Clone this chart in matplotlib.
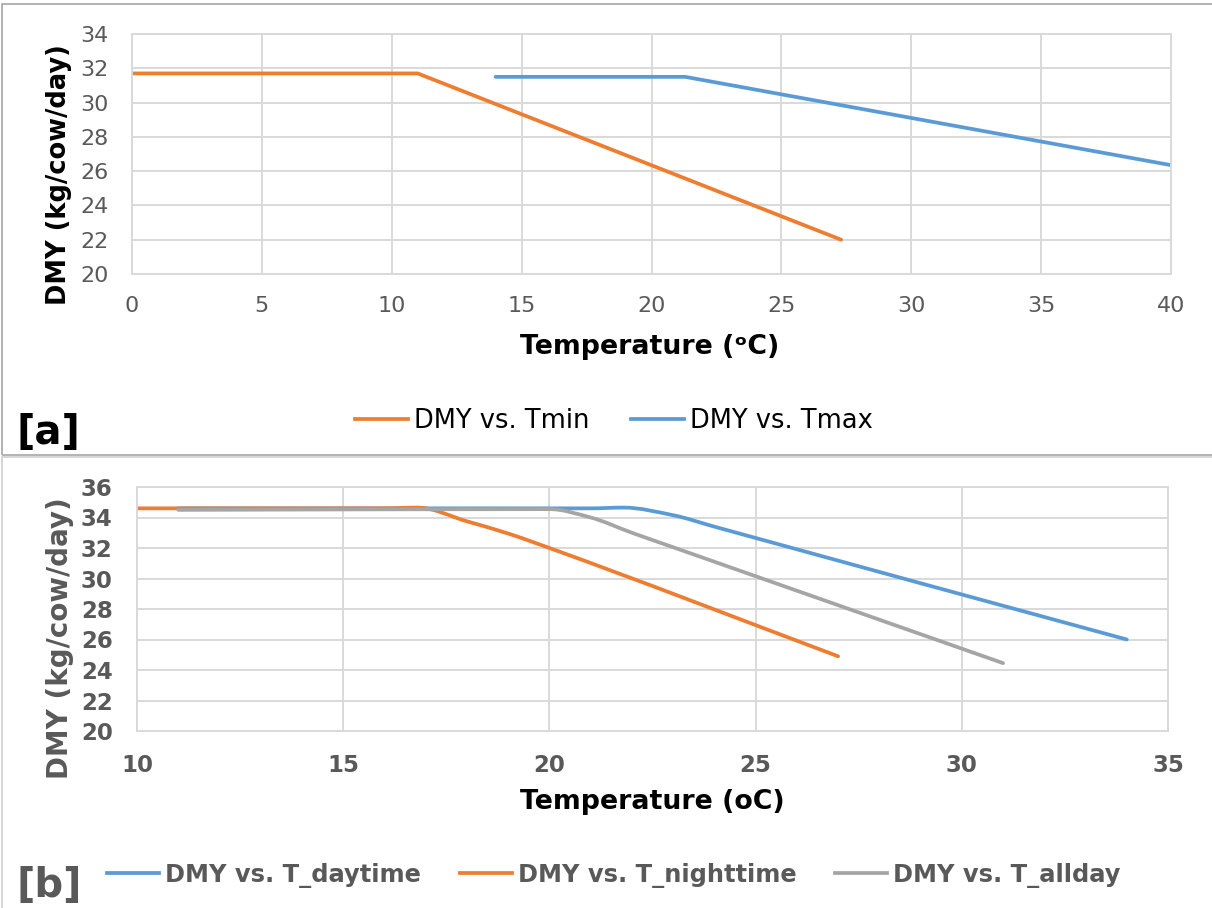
import numpy as np
import matplotlib.pyplot as plt
from matplotlib.path import Path
from matplotlib.patches import PathPatch, Rectangle
from matplotlib.lines import Line2D

# panel [a]: straight lines
tmin_x = [0, 11, 27.3]
tmin_y = [31.7, 31.7, 22.0]
tmax_x = [14, 21.3, 40]
tmax_y = [31.5, 31.5, 26.35]

# panel [b]: smoothed lines
day_x = [11, 21, 21.8, 23, 24, 34]
day_y = [34.6, 34.6, 34.65, 34.15, 33.4, 26.0]
night_x = [10, 16, 16.8, 18, 19, 20, 27]
night_y = [34.6, 34.6, 34.65, 33.75, 32.95, 32.0, 24.9]
all_x = [11, 20, 21, 22, 23, 31]
all_y = [34.5, 34.55, 34.0, 33.0, 32.05, 24.45]

ORANGE = '#ED7D31'
BLUE = '#5B9BD5'
GRAY = '#A5A5A5'
TXT = '#595959'
GRID = '#d9d9d9'


def smooth_path(xs, ys):
    # monotone cubic through the points, written as bezier segments
    x = np.asarray(xs, float)
    y = np.asarray(ys, float)
    h = np.diff(x)
    d = np.diff(y) / h
    m = np.zeros_like(x)
    m[0], m[-1] = d[0], d[-1]
    for k in range(1, len(x) - 1):
        if d[k - 1] * d[k] <= 0:
            m[k] = 0
        else:
            w1 = 2 * h[k] + h[k - 1]
            w2 = h[k] + 2 * h[k - 1]
            m[k] = (w1 + w2) / (w1 / d[k - 1] + w2 / d[k])
    verts = [(x[0], y[0])]
    codes = [Path.MOVETO]
    for k in range(len(h)):
        verts += [(x[k] + h[k] / 3, y[k] + m[k] * h[k] / 3),
                  (x[k + 1] - h[k] / 3, y[k + 1] - m[k + 1] * h[k] / 3),
                  (x[k + 1], y[k + 1])]
        codes += [Path.CURVE4] * 3
    return Path(verts, codes)


def style_axes(ax):
    ax.grid(True, color=GRID, lw=1.4)
    ax.set_axisbelow(True)
    for s in ax.spines.values():
        s.set_color(GRID)
        s.set_linewidth(1.4)
    ax.tick_params(length=0)


fig = plt.figure(figsize=(12.12, 9.08), dpi=100)

# panel frames
fig.add_artist(Rectangle((2 / 1212, 1 - 455 / 908), 1.1, 451 / 908,
                         transform=fig.transFigure, fill=False, ec='#a6a6a6', lw=1.2))
fig.add_artist(Rectangle((2 / 1212, -0.1), 1.1, 1 - 457 / 908 + 0.1,
                         transform=fig.transFigure, fill=False, ec='#d0d0d0', lw=1.2))

# ---- [a]
ax1 = fig.add_axes([132 / 1212, 1 - 274 / 908, 1039 / 1212, 240 / 908])
style_axes(ax1)
ax1.plot(tmin_x, tmin_y, color=ORANGE, lw=2.7, solid_capstyle='round')
ax1.plot(tmax_x, tmax_y, color=BLUE, lw=2.7, solid_capstyle='round')
ax1.set_xlim(0, 40)
ax1.set_ylim(20, 34)
ax1.set_xticks(range(0, 41, 5))
ax1.set_yticks(range(20, 35, 2))
ax1.tick_params(axis='x', pad=16, labelsize=16, labelcolor=TXT)
ax1.tick_params(axis='y', pad=17, labelsize=16, labelcolor=TXT)

fig.text(59 / 1212, 1 - 175 / 908, 'DMY (kg/cow/day)', rotation=90,
         ha='center', va='center', weight='bold', size=18.5, color='black')
fig.text(650 / 1212, 1 - 347 / 908, 'Temperature (\u1d52C)',
         ha='center', va='center', weight='bold', size=19.3, color='black')
fig.text(16 / 1212, 1 - 433 / 908, '[a]', ha='left', va='center',
         weight='bold', size=29, color='black')

h_a = [Line2D([], [], color=ORANGE, lw=2.7), Line2D([], [], color=BLUE, lw=2.7)]
fig.legend(h_a, ['DMY vs. Tmin', 'DMY vs. Tmax'], loc='center',
           bbox_to_anchor=(614 / 1212, 1 - 421 / 908), ncol=2, frameon=False,
           fontsize=18.5, handlelength=2.06, handletextpad=0.23, columnspacing=1.63,
           labelcolor='black')

# ---- [b]
ax2 = fig.add_axes([137 / 1212, 1 - 731 / 908, 1031 / 1212, 244 / 908])
style_axes(ax2)
for xs, ys, c in [(day_x, day_y, BLUE), (night_x, night_y, ORANGE), (all_x, all_y, GRAY)]:
    ax2.add_patch(PathPatch(smooth_path(xs, ys), fill=False, ec=c, lw=2.7,
                            capstyle='round', joinstyle='round'))
ax2.set_xlim(10, 35)
ax2.set_ylim(20, 36)
ax2.set_xticks(range(10, 36, 5))
ax2.set_yticks(range(20, 37, 2))
ax2.tick_params(axis='x', pad=16.5, labelsize=16.5)
ax2.tick_params(axis='y', pad=17.5, labelsize=16.5)
for lab in ax2.get_xticklabels() + ax2.get_yticklabels():
    lab.set_fontweight('bold')
    lab.set_color(TXT)

fig.text(60 / 1212, 1 - 638 / 908, 'DMY (kg/cow/day)', rotation=90,
         ha='center', va='center', weight='bold', size=20, color=TXT)
fig.text(652 / 1212, 1 - 802 / 908, 'Temperature (oC)',
         ha='center', va='center', weight='bold', size=19.3, color='black')
fig.text(16 / 1212, 1 - 886 / 908, '[b]', ha='left', va='center',
         weight='bold', size=29, color=TXT)

h_b = [Line2D([], [], color=BLUE, lw=2.7), Line2D([], [], color=ORANGE, lw=2.7),
       Line2D([], [], color=GRAY, lw=2.7)]
leg = fig.legend(h_b, ['DMY vs. T_daytime', 'DMY vs. T_nighttime', 'DMY vs. T_allday'],
                 loc='center', bbox_to_anchor=(614 / 1212, 1 - 875 / 908), ncol=3,
                 frameon=False, fontsize=17.4, handlelength=2.15, handletextpad=0.25,
                 columnspacing=1.6, labelcolor=TXT)
for t in leg.get_texts():
    t.set_fontweight('bold')

fig.savefig('out.png', dpi=100)
